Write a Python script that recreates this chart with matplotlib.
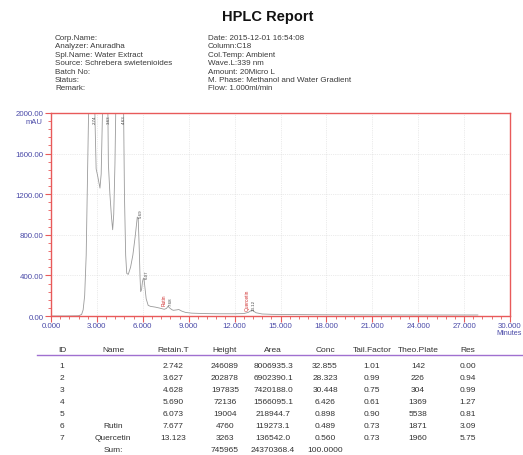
import matplotlib
matplotlib.use("Agg")
import matplotlib.pyplot as plt
from matplotlib.ticker import MultipleLocator, FixedLocator

plt.rcParams['font.family'] = ['Liberation Sans', 'DejaVu Sans']

# ---------------- data ----------------
title = "HPLC Report"
meta_left = ["Corp.Name:", "Analyzer: Anuradha", "Spl.Name: Water Extract",
             "Source: Schrebera swietenioides", "Batch No:", "Status:", "Remark:"]
meta_right = ["Date: 2015-12-01 16:54:08", "Column:C18", "Col.Temp: Ambient",
              "Wave.L:339 nm", "Amount: 20Micro L",
              "M. Phase: Methanol and Water Gradient", "Flow: 1.000ml/min"]

# chromatogram trace (minutes, mAU); off-scale peaks clipped by the axis
trace_t = [0.0, 1.0, 1.8, 2.0, 2.1, 2.2, 2.3, 2.4, 2.5, 2.6, 2.74, 2.82, 2.88, 2.95, 3.05, 3.2,
           3.28, 3.35, 3.45, 3.63, 3.70, 3.75, 3.85, 3.95, 4.03, 4.1, 4.18, 4.25, 4.4, 4.63,
           4.72, 4.8, 4.88, 4.95, 5.05, 5.2, 5.35, 5.5, 5.64, 5.70, 5.76, 5.82, 5.86, 5.92,
           5.98, 6.04, 6.08, 6.14, 6.22, 6.35, 6.5, 6.8, 7.1, 7.4, 7.55, 7.65, 7.75, 7.9,
           8.0, 8.2, 8.35, 8.55, 8.8, 9.2, 10.0, 11.0, 12.0, 12.6, 12.9, 13.1, 13.2, 13.4,
           13.8, 14.5, 16.0, 18.0, 21.0, 24.0, 27.9]
trace_v = [0, 0, 2, 15, 60, 200, 600, 1500, 2400, 2600, 2600, 2400, 1900, 1450, 1380, 1260,
           1400, 1900, 2500, 2600, 2300, 1500, 1200, 980, 850, 1000, 1500, 2200, 2600, 2600,
           2400, 1200, 600, 420, 410, 480, 600, 780, 975, 960, 700, 380, 240, 260,
           340, 372, 365, 280, 170, 105, 95, 88, 78, 66, 75, 96, 80, 62,
           56, 60, 64, 48, 35, 28, 24, 22, 22, 24, 36, 55, 52, 32,
           20, 16, 14, 12, 11, 10, 10]

# peak labels (retention time label, name)
peak_labels = ["2.74", "3.63", "4.63", "5.69", "6.07", "7.68", "13.12"]
peak_names = ["", "", "", "", "", "Rutin", "Quercetin"]

# table
headers = ["ID", "Name", "Retain.T", "Height", "Area", "Conc", "Tail.Factor", "Theo.Plate", "Res"]
ids = ["1", "2", "3", "4", "5", "6", "7"]
names = ["", "", "", "", "", "Rutin", "Quercetin"]
retain = ["2.742", "3.627", "4.628", "5.690", "6.073", "7.677", "13.123"]
height = ["246089", "202878", "197835", "72136", "19004", "4760", "3263"]
area = ["8006935.3", "6902390.1", "7420188.0", "1566095.1", "218944.7", "119273.1", "136542.0"]
conc = ["32.855", "28.323", "30.448", "6.426", "0.898", "0.489", "0.560"]
tail = ["1.01", "0.99", "0.75", "0.61", "0.90", "0.73", "0.73"]
plate = ["142", "226", "304", "1369", "5538", "1871", "1960"]
res = ["0.00", "0.94", "0.99", "1.27", "0.81", "3.09", "5.75"]
sum_row = ["", "Sum:", "", "745965", "24370368.4", "100.0000", "", "", ""]

xticks = [0, 3, 6, 9, 12, 15, 18, 21, 24, 27, 30]
yticks = [0, 400, 800, 1200, 1600, 2000]

# ---------------- figure ----------------
W, H = 523, 456
fig = plt.figure(figsize=(W / 100, H / 100), dpi=100)

def fx(px):
    return px / W

def fy(py):
    return 1 - py / H

txtc = "#333333"
fig.text(fx(268), fy(17), title, ha="center", va="center", fontsize=10.5, fontweight="bold", color="#111111")
for i, s in enumerate(meta_left):
    fig.text(fx(55), fy(39.8 + 8.45 * i), s, ha="left", va="baseline", fontsize=5.8, color="#3a3a3a")
for i, s in enumerate(meta_right):
    fig.text(fx(208), fy(39.8 + 8.45 * i), s, ha="left", va="baseline", fontsize=5.8, color="#3a3a3a")

red = "#e85a5a"
blue = "#4a4aa8"
ax = fig.add_axes([fx(51), fy(317), fx(510) - fx(51), (317 - 114) / H])
ax.plot(trace_t, trace_v, color="#9a9a9a", lw=0.6)
ax.set_xlim(0, 30)
ax.set_ylim(0, 2000)
for sp in ax.spines.values():
    sp.set_color(red)
    sp.set_linewidth(1.0)
ax.xaxis.set_major_locator(FixedLocator(xticks))
ax.yaxis.set_major_locator(FixedLocator(yticks))
ax.xaxis.set_minor_locator(MultipleLocator(0.6))
ax.yaxis.set_minor_locator(MultipleLocator(80))
ax.set_xticklabels(["%.3f" % v for v in xticks])
ax.set_yticklabels(["%.2f" % v for v in yticks])
ax.tick_params(which="major", length=4, width=0.8, color=red, labelsize=5.7, labelcolor=blue, pad=1.5)
ax.tick_params(axis="x", which="major", pad=0.2)
ax.tick_params(which="minor", length=2.5, width=0.6, color=red)
ax.grid(True, which="major", color="#d8d8d8", lw=0.5, ls=":")
ax.set_axisbelow(True)

fig.text(fx(42), fy(122), "mAU", ha="right", va="center", fontsize=5.5, color=blue)
fig.text(fx(522), fy(334), "Minutes", ha="right", va="center", fontsize=5.2, color=blue)

# peak labels
rt = [float(r) for r in retain]
lbl_fs = 3.2
for i, (lab, nm) in enumerate(zip(peak_labels, peak_names)):
    t = rt[i]
    if i < 3:
        ax.text(t + 0.12, 1985, lab, rotation=90, ha="center", va="top", fontsize=lbl_fs, color="#444444")
    elif nm == "":
        peak_v = max(v for tt, v in zip(trace_t, trace_v) if abs(tt - t) < 0.12)
        ax.text(t + 0.17, peak_v + 5, lab, rotation=90, ha="center", va="bottom", fontsize=lbl_fs, color="#444444")
    else:
        peak_v = max(v for tt, v in zip(trace_t, trace_v) if abs(tt - t) < 0.15)
        ax.text(t + 0.15, peak_v + 8, lab, rotation=90, ha="center", va="bottom", fontsize=lbl_fs, color="#444444")
        ax.text(t - 0.28, peak_v + 8, nm, rotation=90, ha="center", va="bottom", fontsize=lbl_fs + 0.3, color="#d03030")

# table
col_x = [62, 113, 173, 225, 273, 325, 372, 418, 468]
tfs = 6.0
for x, h in zip(col_x, headers):
    fig.text(fx(x), fy(352.5), h, ha="center", va="baseline", fontsize=tfs, color=txtc)
fig.add_artist(plt.Line2D([fx(37), fx(523)], [fy(356), fy(356)], color="#a070d0", lw=1.0))
cols = [ids, names, retain, height, area, conc, tail, plate, res]
for r in range(len(ids)):
    for x, c in zip(col_x, cols):
        fig.text(fx(x), fy(368.5 + 12 * r), c[r], ha="center", va="baseline", fontsize=tfs, color=txtc)
for x, s in zip(col_x, sum_row):
    if s:
        fig.text(fx(x), fy(452.5), s, ha="center", va="baseline", fontsize=tfs, color=txtc)

fig.savefig("out.png", dpi=100)
